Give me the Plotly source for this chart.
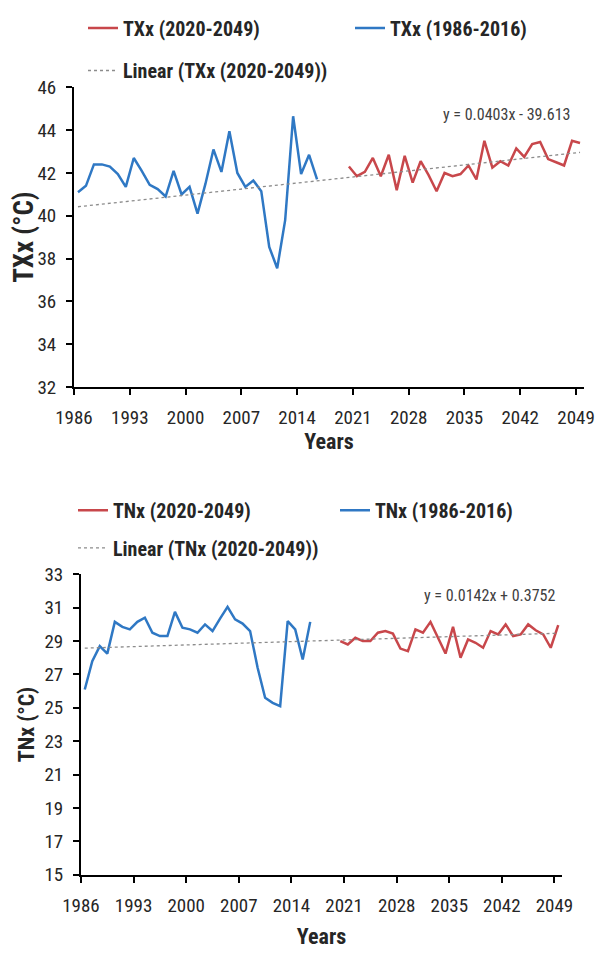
import plotly.graph_objects as go

# ---------------- data ----------------
YEARS_HIST = list(range(1986, 2017))   # 1986-2016
YEARS_PROJ = list(range(2020, 2050))   # 2020-2049

TXX_HIST = [41.1, 41.4, 42.4, 42.4, 42.3, 41.95, 41.35, 42.7, 42.1, 41.45,
            41.25, 40.9, 42.1, 41.0, 41.35, 40.1, 41.5, 43.1, 42.05, 43.95,
            42.0, 41.35, 41.65, 41.15, 38.55, 37.55, 39.8, 44.65, 41.95, 42.85,
            41.7]
TXX_PROJ = [42.3, 41.85, 42.05, 42.7, 41.85, 42.85, 41.2, 42.8, 41.55, 42.55,
            41.9, 41.15, 42.0, 41.85, 41.95, 42.35, 41.7, 43.5, 42.25, 42.55,
            42.35, 43.15, 42.75, 43.35, 43.45, 42.65, 42.5, 42.35, 43.5, 43.4]

TNX_HIST = [26.1, 27.8, 28.7, 28.25, 30.15, 29.85, 29.7, 30.15, 30.4, 29.5,
            29.3, 29.3, 30.75, 29.8, 29.7, 29.5, 30.0, 29.6, 30.35, 31.05,
            30.3, 30.05, 29.6, 27.4, 25.6, 25.3, 25.1, 30.2, 29.7, 27.9,
            30.15]
TNX_PROJ = [29.0, 28.8, 29.2, 29.0, 29.0, 29.5, 29.6, 29.45, 28.55, 28.4,
            29.7, 29.5, 30.15, 29.2, 28.25, 29.85, 28.0, 29.1, 28.9, 28.6,
            29.6, 29.4, 30.0, 29.3, 29.4, 30.0, 29.65, 29.4, 28.6, 29.95]

# linear trend lines shown on the chart (slope, intercept)
TXX_TREND = (0.0403, -39.613)
TNX_TREND = (0.0142, 0.3752)
TREND_SPAN = [1986, 2049]

TICK_YEARS = [1986, 1993, 2000, 2007, 2014, 2021, 2028, 2035, 2042, 2049]
TICK_LABELS = [str(y) for y in TICK_YEARS]

TXX_TICKS = [32, 34, 36, 38, 40, 42, 44, 46]
TNX_TICKS = [15, 17, 19, 21, 23, 25, 27, 29, 31, 33]

# ---------------- style ----------------
OFF = 8                      # default page body margin
W, H = 606 - 2 * OFF, 957 - 2 * OFF
FONT = "Liberation Sans Narrow, Arial Narrow, Roboto Condensed, DejaVu Sans Condensed, Roboto, sans-serif"
RED = "#C8474B"
BLUE = "#2F78C4"
GREY = "#8C8C8C"
TXT = "#262626"


def fx(p):
    return (p - OFF) / W


def fy(p):
    return 1 - (p - OFF) / H


def trend(coef):
    return [coef[0] * x + coef[1] for x in TREND_SPAN]


fig = go.Figure()

# ----- top panel (TXx) -----
fig.add_trace(go.Scatter(x=YEARS_PROJ, y=TXX_PROJ, mode="lines", name="TXx (2020-2049)",
                         line=dict(color=RED, width=2.5), legend="legend", xaxis="x", yaxis="y",
                         showlegend=True))
fig.add_trace(go.Scatter(x=YEARS_HIST, y=TXX_HIST, mode="lines", name="TXx (1986-2016)",
                         line=dict(color=BLUE, width=2.5), legend="legend2", xaxis="x", yaxis="y",
                         showlegend=True))
fig.add_trace(go.Scatter(x=TREND_SPAN, y=trend(TXX_TREND), mode="lines",
                         name="Linear (TXx (2020-2049))",
                         line=dict(color=GREY, width=1.3, dash="dot"), legend="legend3",
                         xaxis="x", yaxis="y", showlegend=True))

# ----- bottom panel (TNx) -----
fig.add_trace(go.Scatter(x=YEARS_PROJ, y=TNX_PROJ, mode="lines", name="TNx (2020-2049)",
                         line=dict(color=RED, width=2.5), legend="legend4", xaxis="x2", yaxis="y2",
                         showlegend=True))
fig.add_trace(go.Scatter(x=YEARS_HIST, y=TNX_HIST, mode="lines", name="TNx (1986-2016)",
                         line=dict(color=BLUE, width=2.5), legend="legend5", xaxis="x2", yaxis="y2",
                         showlegend=True))
fig.add_trace(go.Scatter(x=TREND_SPAN, y=trend(TNX_TREND), mode="lines",
                         name="Linear (TNx (2020-2049))",
                         line=dict(color=GREY, width=1.3, dash="dot"), legend="legend6",
                         xaxis="x2", yaxis="y2", showlegend=True))

axis_common = dict(showline=True, linecolor="black", linewidth=2, ticks="outside",
                   ticklen=6, tickwidth=2, tickcolor="black", showgrid=False,
                   zeroline=False, ticklabelstandoff=6, automargin=False,
                   tickfont=dict(family=FONT, size=19, color=TXT))

xr = [1985.5, 2049.5]
xtickvals = [y - 0.5 for y in TICK_YEARS]

legend_common = dict(bgcolor="rgba(0,0,0,0)", borderwidth=0, xanchor="left",
                     yanchor="middle", orientation="h",
                     font=dict(family=FONT, size=20, color=TXT, weight="bold"))

fig.update_layout(
    template="none",
    showlegend=True,
    width=W, height=H, autosize=False,
    margin=dict(l=0, r=0, t=0, b=0, pad=0),
    paper_bgcolor="white", plot_bgcolor="white",
    font=dict(family=FONT, color=TXT),
    xaxis=dict(domain=[fx(74), fx(584)], range=xr, tickvals=xtickvals, ticktext=TICK_LABELS,
               anchor="y",
               title=dict(text="Years", standoff=6,
                          font=dict(family=FONT, size=22, color=TXT, weight="bold")),
               **axis_common),
    yaxis=dict(domain=[fy(381.7), fy(79)], range=[32, 46], tickvals=TXX_TICKS, anchor="x",
               title=dict(text="TXx (°C)", standoff=2,
                          font=dict(family=FONT, size=27, color=TXT, weight="bold")),
               **axis_common),
    xaxis2=dict(domain=[fx(81), fx(562)], range=xr, tickvals=xtickvals, ticktext=TICK_LABELS,
                anchor="y2",
                title=dict(text="Years", standoff=27,
                           font=dict(family=FONT, size=22, color=TXT, weight="bold")),
                **axis_common),
    yaxis2=dict(domain=[fy(874), fy(570.7)], range=[15, 33], tickvals=TNX_TICKS, anchor="x2",
                title=dict(text="TNx (°C)", standoff=4,
                           font=dict(family=FONT, size=22, color=TXT, weight="bold")),
                **axis_common),
    legend=dict(x=fx(83), y=fy(19), **legend_common),
    legend2=dict(x=fx(350), y=fy(19), **legend_common),
    legend3=dict(x=fx(83), y=fy(62), **legend_common),
    legend4=dict(x=fx(73), y=fy(506), **legend_common),
    legend5=dict(x=fx(335), y=fy(506), **legend_common),
    legend6=dict(x=fx(73), y=fy(544), **legend_common),
    annotations=[
        dict(text="y = 0.0403x - 39.613", xref="paper", yref="paper", x=fx(506), y=fy(106),
             showarrow=False, xanchor="center", yanchor="middle",
             font=dict(family=FONT, size=16, color="#404040")),
        dict(text="y = 0.0142x + 0.3752", xref="paper", yref="paper", x=fx(490), y=fy(592),
             showarrow=False, xanchor="center", yanchor="middle",
             font=dict(family=FONT, size=16, color="#404040")),
    ],
)

fig.write_html("out.html")
